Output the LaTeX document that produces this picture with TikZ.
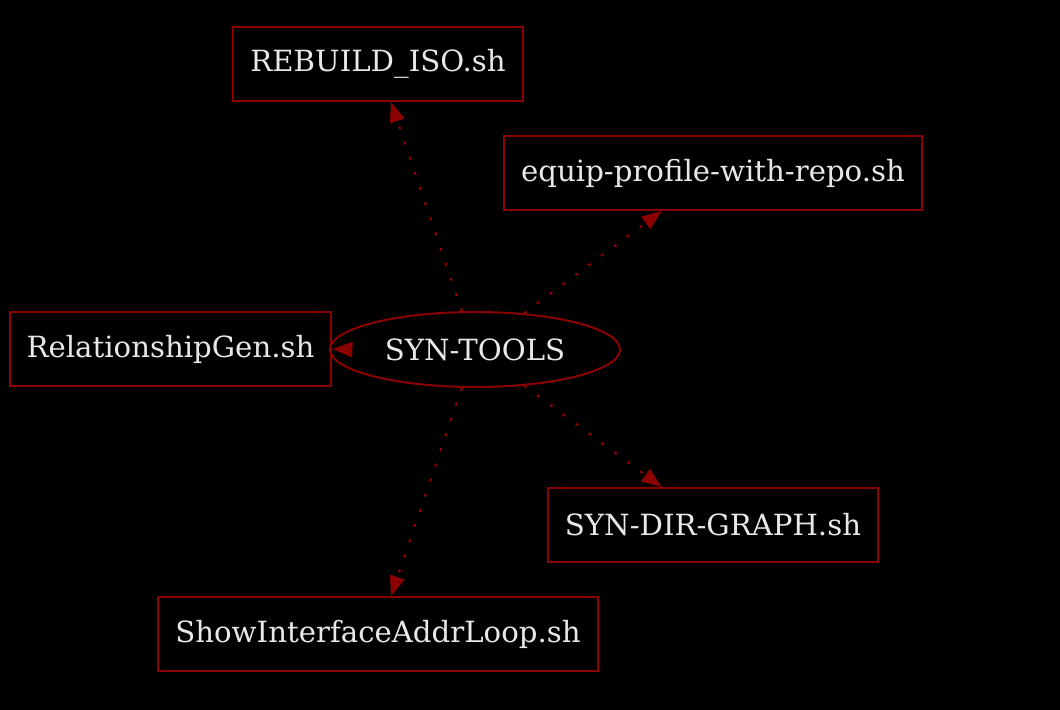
\documentclass[tikz,border=0pt]{standalone}
\usepackage{fontspec}
\setmainfont{DejaVu Serif}
\usetikzlibrary{arrows.meta,shapes.geometric}
\definecolor{edgered}{RGB}{139,0,0}
\definecolor{labelgray}{RGB}{232,232,232}
\tikzset{
  file node/.style={
    rectangle,
    draw=edgered,
    line width=1pt,
    text=labelgray,
    minimum height=37pt,
    inner xsep=8.5pt,
    inner ysep=0pt,
    font=\fontsize{14.6}{17}\selectfont
  },
  root node/.style={
    ellipse,
    draw=edgered,
    line width=1pt,
    text=labelgray,
    minimum width=145pt,
    minimum height=37.5pt,
    inner sep=0pt,
    font=\fontsize{14.6}{17}\selectfont
  },
  dep/.style={-{Triangle[length=10pt,width=7.5pt]},line width=1.1pt,draw=edgered,
    dash pattern=on 1.5pt off 6.5pt}
}

\begin{document}
\begin{tikzpicture}[x=0.5pt,y=-0.5pt]
  \fill[black] (0,0) rectangle (1060,710);
  \useasboundingbox (0,0) rectangle (1060,710);

  \node[root node] (syn) at (475,349.5) {SYN-TOOLS};
  \node[file node] (rebuild) at (378,64) {REBUILD\_ISO.sh};
  \node[file node] (equip) at (713,173) {equip-profile-with-repo.sh};
  \node[file node] (relgen) at (170.5,349) {RelationshipGen.sh};
  \node[file node] (dirgraph) at (713,525) {SYN-DIR-GRAPH.sh};
  \node[file node] (showif) at (378,634) {ShowInterfaceAddrLoop.sh};

  \draw[dep] (syn) -- (rebuild);
  \draw[dep] (syn) -- (equip);
  \draw[dep] ([xshift=10pt]syn.west) -- (relgen.east);
  \draw[dep] (syn) -- (dirgraph);
  \draw[dep] (syn) -- (showif);
\end{tikzpicture}
\end{document}
